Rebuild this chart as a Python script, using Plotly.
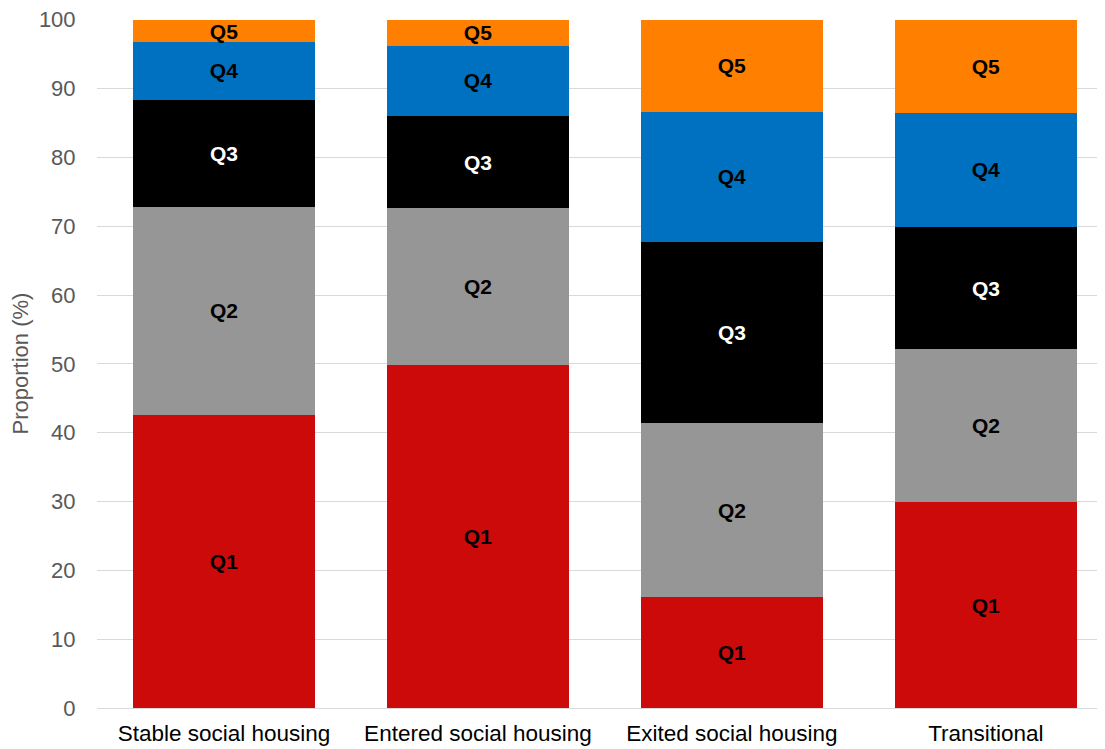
import plotly.graph_objects as go

categories = ["Stable social housing", "Entered social housing", "Exited social housing", "Transitional"]
series_names = ["Q1", "Q2", "Q3", "Q4", "Q5"]
q1 = [42.6, 49.9, 16.1, 29.9]
q2 = [30.2, 22.7, 25.3, 22.2]
q3 = [15.6, 13.4, 26.3, 17.8]
q4 = [8.3, 10.2, 18.9, 16.6]
q5 = [3.3, 3.8, 13.4, 13.5]
y_ticks = [0, 10, 20, 30, 40, 50, 60, 70, 80, 90, 100]

values = [q1, q2, q3, q4, q5]
colors = ["#CC0A0A", "#969696", "#000000", "#0070C0", "#FF8000"]
text_colors = ["#000000", "#000000", "#FFFFFF", "#000000", "#000000"]

fig = go.Figure()
for name, vals, col, tcol in zip(series_names, values, colors, text_colors):
    fig.add_trace(go.Bar(
        x=categories, y=vals, name=name,
        marker=dict(color=col, line=dict(width=0)),
        text=[name] * len(vals),
        textposition="inside",
        insidetextanchor="middle",
        textangle=0,
        textfont=dict(family="Liberation Sans, Arial, sans-serif", size=21, color=tcol, weight="bold"),
        hoverinfo="skip",
    ))

fig.update_layout(
    barmode="stack",
    bargap=0.283,
    width=1097, height=741,
    margin=dict(l=89, r=0, t=11, b=41, pad=0),
    plot_bgcolor="white", paper_bgcolor="white",
    showlegend=False,
    uniformtext=dict(minsize=21, mode="show"),
    font=dict(family="Liberation Sans, Arial, sans-serif", size=22, color="#595959"),
    xaxis=dict(
        range=[-0.5, 3.469],
        automargin=False,
        showgrid=False, showline=False, zeroline=False,
        ticks="outside", ticklen=5, tickcolor="rgba(0,0,0,0)",
        tickfont=dict(size=22.5, color="#000000"),
    ),
    yaxis=dict(
        range=[0, 100.1], tickvals=y_ticks,
        showgrid=True, gridcolor="#D9D9D9", gridwidth=1,
        zeroline=True, zerolinecolor="#D9D9D9", zerolinewidth=1,
        showline=False,
        ticks="outside", ticklen=16, tickcolor="rgba(0,0,0,0)",
        ticklabeloverflow="allow",
        tickfont=dict(size=22, color="#595959"),
        title=dict(text="Proportion (%)", font=dict(size=22, color="#595959"), standoff=8),
    ),
)

fig.write_html("out.html")
